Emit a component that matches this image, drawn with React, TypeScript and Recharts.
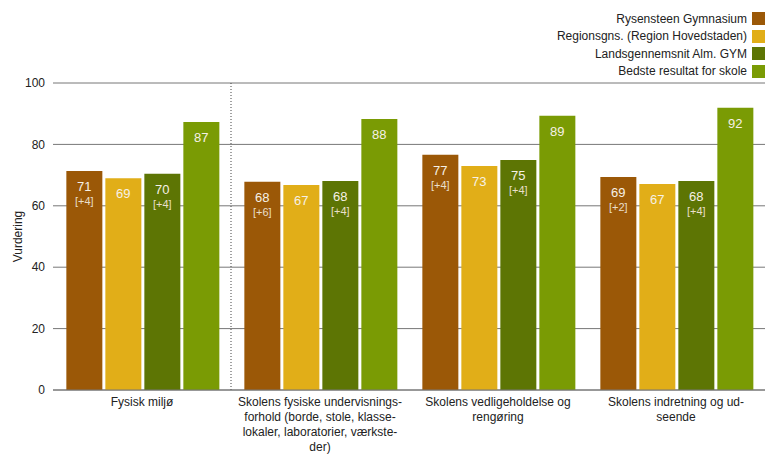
import {
  Bar,
  BarChart,
  CartesianGrid,
  LabelList,
  ReferenceLine,
  XAxis,
  YAxis,
} from "recharts";

const categories = [
  "Fysisk miljø",
  "Skolens fysiske undervisningsforhold",
  "Skolens vedligeholdelse og rengøring",
  "Skolens indretning og udseende",
];

// hyphenated tick lines as in the original
const categoryLines = [
  ["Fysisk miljø"],
  [
    "Skolens fysiske undervisnings-",
    "forhold (borde, stole, klasse-",
    "lokaler, laboratorier, værkste-",
    "der)",
  ],
  ["Skolens vedligeholdelse og", "rengøring"],
  ["Skolens indretning og ud-", "seende"],
];

const seriesNames = [
  "Rysensteen Gymnasium",
  "Regionsgns. (Region Hovedstaden)",
  "Landsgennemsnit Alm. GYM",
  "Bedste resultat for skole",
];
const seriesColors = ["#9b5807", "#e1ae18", "#5d7504", "#7a9b04"];

const rysensteen = [71.3, 67.8, 76.6, 69.4];
const region = [69.0, 66.8, 73.0, 67.1];
const lands = [70.4, 68.1, 74.9, 68.1];
const bedste = [87.3, 88.3, 89.3, 91.9];

const rysDiff = ["[+4]", "[+6]", "[+4]", "[+2]"];
const landsDiff = ["[+4]", "[+4]", "[+4]", "[+4]"];

const yTicks = [0, 20, 40, 60, 80, 100];

const data = categories.map((c, i) => ({
  name: c,
  idx: i,
  s0: rysensteen[i],
  s1: region[i],
  s2: lands[i],
  s3: bedste[i],
}));

const FONT = "'Liberation Sans', Arial, sans-serif";

function makeLabel(diffs?: string[]) {
  return (props: any) => {
    const { x, y, width, value, index } = props;
    const cx = Number(x) + Number(width) / 2;
    const top = Number(y);
    return (
      <g>
        <text
          x={cx}
          y={top + 20}
          textAnchor="middle"
          fill="#f6f1e6"
          fontSize={13}
          fontFamily={FONT}
        >
          {Math.round(Number(value))}
        </text>
        {diffs && (
          <text
            x={cx}
            y={top + 34}
            textAnchor="middle"
            fill="#eadfca"
            fontSize={11}
            fontFamily={FONT}
          >
            {diffs[index]}
          </text>
        )}
      </g>
    );
  };
}

function CategoryTick(props: any) {
  const { x, y, payload } = props;
  const lines = categoryLines[payload.index] ?? [payload.value];
  return (
    <g>
      {lines.map((l, i) => (
        <text
          key={i}
          x={x}
          y={y + 8 + i * 15}
          textAnchor="middle"
          fill="#222"
          fontSize={12}
          fontFamily={FONT}
        >
          {l}
        </text>
      ))}
    </g>
  );
}

function YLabel(props: any) {
  const vb = props.viewBox;
  const cx = 18;
  const cy = vb.y + vb.height / 2;
  return (
    <text
      x={cx}
      y={cy}
      transform={`rotate(-90, ${cx}, ${cy})`}
      textAnchor="middle"
      dominantBaseline="central"
      fill="#222"
      fontSize={12}
      fontFamily={FONT}
    >
      Vurdering
    </text>
  );
}

export default function App() {
  return (
    <div style={{ position: "fixed", left: 0, top: 0, width: 765, height: 456, background: "#fff" }}>
      <BarChart
        width={765}
        height={456}
        data={data}
        margin={{ top: 83, right: 0, left: 0, bottom: 6 }}
        barCategoryGap="7.5%"
        barGap={3}
      >
        <CartesianGrid vertical={false} stroke="#777" />
        <XAxis
          dataKey="name"
          tick={<CategoryTick />}
          tickLine={false}
          axisLine={{ stroke: "#777" }}
          interval={0}
          height={60}
        />
        <XAxis
          xAxisId="sep"
          dataKey="idx"
          type="number"
          domain={[0, 4]}
          allowDataOverflow
          hide
        />
        <YAxis
          domain={[0, 100]}
          ticks={yTicks}
          width={53}
          tickLine={false}
          axisLine={false}
          tickSize={0}
          tickMargin={8}
          tick={{ fontSize: 12, fill: "#222", fontFamily: FONT }}
          label={<YLabel />}
        />
        <ReferenceLine xAxisId="sep" x={1} stroke="#444" strokeDasharray="1 2" />
        <Bar dataKey="s0" name={seriesNames[0]} fill={seriesColors[0]} isAnimationActive={false}>
          <LabelList dataKey="s0" content={makeLabel(rysDiff)} />
        </Bar>
        <Bar dataKey="s1" name={seriesNames[1]} fill={seriesColors[1]} isAnimationActive={false}>
          <LabelList dataKey="s1" content={makeLabel()} />
        </Bar>
        <Bar dataKey="s2" name={seriesNames[2]} fill={seriesColors[2]} isAnimationActive={false}>
          <LabelList dataKey="s2" content={makeLabel(landsDiff)} />
        </Bar>
        <Bar dataKey="s3" name={seriesNames[3]} fill={seriesColors[3]} isAnimationActive={false}>
          <LabelList dataKey="s3" content={makeLabel()} />
        </Bar>
      </BarChart>
      <div
        style={{
          position: "absolute",
          top: 10,
          right: 0,
          fontFamily: FONT,
          fontSize: 12,
          color: "#222",
        }}
      >
        {seriesNames.map((n, i) => (
          <div
            key={n}
            style={{ display: "flex", justifyContent: "flex-end", alignItems: "center", height: 17.5 }}
          >
            <span style={{ marginRight: 5 }}>{n}</span>
            <span style={{ width: 13, height: 13, background: seriesColors[i], display: "inline-block" }} />
          </div>
        ))}
      </div>
    </div>
  );
}
